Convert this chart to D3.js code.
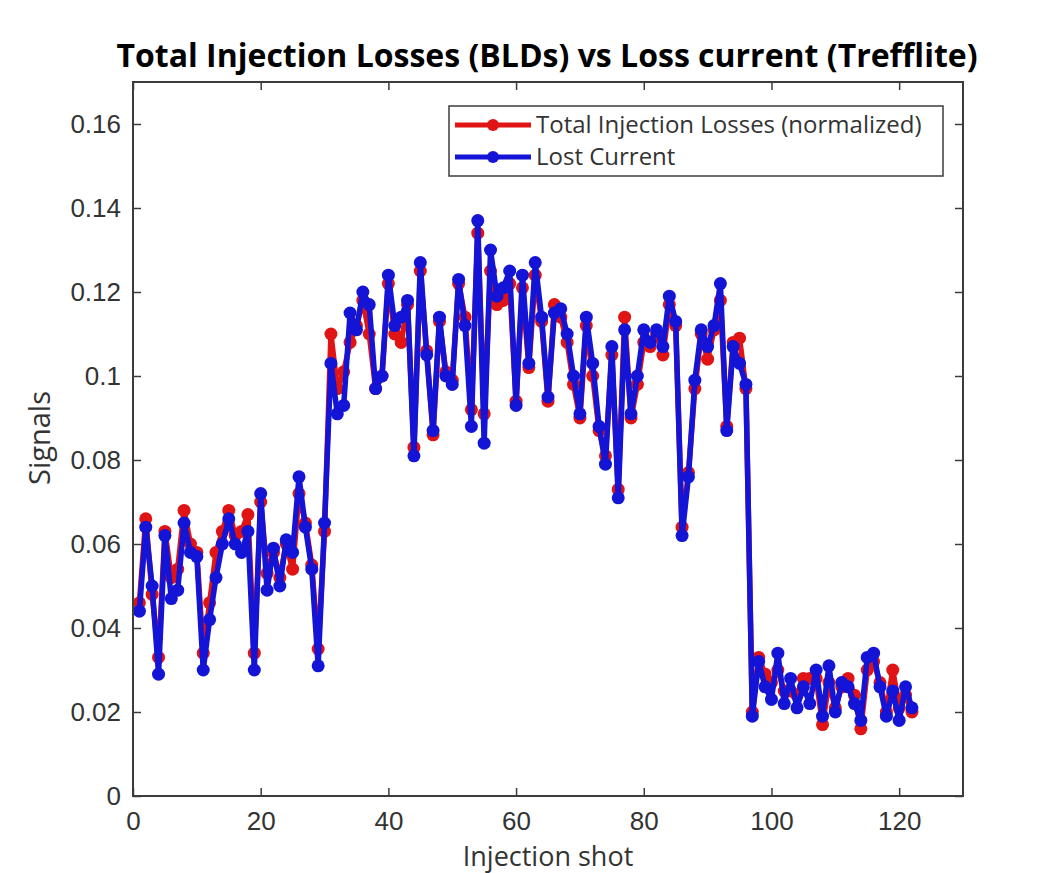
<!DOCTYPE html>
<html lang="en">
<head>
  <meta charset="UTF-8">
  <title>Total Injection Losses vs Loss current</title>
  <style>
    body { margin: 0; background: #fff; }
    svg { display: block; font-family: "Open Sans", "DejaVu Sans", sans-serif; }
  </style>
</head>
<body>
  <svg></svg>
  <script src="https://cdn.jsdelivr.net/npm/d3@7"></script>
  <script>
    // shot 1..122
    const totalLosses = [
      0.046, 0.066, 0.048, 0.033, 0.063, 0.052, 0.054, 0.068, 0.060, 0.058,
      0.034, 0.046, 0.058, 0.063, 0.068, 0.062, 0.063, 0.067, 0.034, 0.070,
      0.053, 0.058, 0.052, 0.060, 0.054, 0.072, 0.065, 0.055, 0.035, 0.063,
      0.110, 0.097, 0.101, 0.108, 0.112, 0.118, 0.110, 0.097, 0.100, 0.122,
      0.110, 0.108, 0.117, 0.083, 0.125, 0.106, 0.086, 0.113, 0.101, 0.099,
      0.122, 0.114, 0.092, 0.134, 0.091, 0.125, 0.117, 0.118, 0.122, 0.094,
      0.121, 0.102, 0.124, 0.113, 0.094, 0.117, 0.114, 0.108, 0.098, 0.090,
      0.112, 0.100, 0.087, 0.081, 0.105, 0.073, 0.114, 0.090, 0.098, 0.108,
      0.107, 0.110, 0.105, 0.117, 0.112, 0.064, 0.077, 0.097, 0.110, 0.104,
      0.111, 0.118, 0.088, 0.108, 0.109, 0.097, 0.020, 0.033, 0.029, 0.027,
      0.030, 0.025, 0.025, 0.024, 0.028, 0.028, 0.028, 0.017, 0.027, 0.021,
      0.026, 0.028, 0.024, 0.016, 0.030, 0.032, 0.027, 0.020, 0.030, 0.021,
      0.024, 0.020
    ];
    const lostCurrent = [
      0.044, 0.064, 0.050, 0.029, 0.062, 0.047, 0.049, 0.065, 0.058, 0.057,
      0.030, 0.042, 0.052, 0.060, 0.066, 0.060, 0.058, 0.063, 0.030, 0.072,
      0.049, 0.059, 0.050, 0.061, 0.058, 0.076, 0.064, 0.054, 0.031, 0.065,
      0.103, 0.091, 0.093, 0.115, 0.111, 0.120, 0.117, 0.097, 0.100, 0.124,
      0.112, 0.114, 0.118, 0.081, 0.127, 0.105, 0.087, 0.114, 0.100, 0.098,
      0.123, 0.112, 0.088, 0.137, 0.084, 0.130, 0.119, 0.121, 0.125, 0.093,
      0.124, 0.103, 0.127, 0.114, 0.095, 0.115, 0.116, 0.110, 0.100, 0.091,
      0.114, 0.103, 0.088, 0.079, 0.107, 0.071, 0.111, 0.091, 0.100, 0.111,
      0.108, 0.111, 0.107, 0.119, 0.113, 0.062, 0.076, 0.099, 0.111, 0.107,
      0.112, 0.122, 0.087, 0.107, 0.103, 0.098, 0.019, 0.032, 0.026, 0.023,
      0.034, 0.022, 0.028, 0.021, 0.026, 0.022, 0.030, 0.019, 0.031, 0.020,
      0.027, 0.026, 0.022, 0.018, 0.033, 0.034, 0.026, 0.019, 0.025, 0.018,
      0.026, 0.021
    ];
    const xTicks = [0, 20, 40, 60, 80, 100, 120];
    const yTicks = [0, 0.02, 0.04, 0.06, 0.08, 0.1, 0.12, 0.14, 0.16];
    const seriesNames = ["Total Injection Losses (normalized)", "Lost Current"];
    const seriesColors = ["#e01414", "#1414d6"];

    const width = 1052, height = 873;
    const mLeft = 133, mRight = 963, mTop = 82, mBottom = 796;
    const axisColor = "#3c3c3c";

    const svg = d3.select("svg").attr("width", width).attr("height", height);

    const x = d3.scaleLinear().domain([0, 130]).range([mLeft, mRight]);
    const y = d3.scaleLinear().domain([0, 0.17]).range([mBottom, mTop]);

    const fmt = d => String(+d.toFixed(2));

    // data lines
    const series = [totalLosses, lostCurrent].map((vals, k) => ({
      name: seriesNames[k],
      color: seriesColors[k],
      points: vals.map((v, i) => [i + 1, v])
    }));

    const line = d3.line().x(d => x(d[0])).y(d => y(d[1]));

    const g = svg.append("g");
    series.forEach(s => {
      const sg = g.append("g");
      sg.append("path")
        .attr("d", line(s.points))
        .attr("fill", "none")
        .attr("stroke", s.color)
        .attr("stroke-width", 5.5)
        .attr("stroke-linejoin", "round");
      sg.selectAll("circle")
        .data(s.points)
        .join("circle")
        .attr("cx", d => x(d[0]))
        .attr("cy", d => y(d[1]))
        .attr("r", 6.5)
        .attr("fill", s.color);
    });

    // axes (matlab style: box + inward ticks on all sides)
    const tickLen = 8;
    svg.append("g")
      .attr("transform", `translate(0,${mBottom})`)
      .call(d3.axisBottom(x).tickValues(xTicks).tickSize(-tickLen).tickPadding(16).tickFormat(d3.format("d")));
    svg.append("g")
      .attr("transform", `translate(0,${mTop})`)
      .call(d3.axisTop(x).tickValues(xTicks).tickSize(-tickLen).tickFormat(""));
    svg.append("g")
      .attr("transform", `translate(${mLeft},0)`)
      .call(d3.axisLeft(y).tickValues(yTicks).tickSize(-tickLen).tickPadding(12).tickFormat(fmt));
    svg.append("g")
      .attr("transform", `translate(${mRight},0)`)
      .call(d3.axisRight(y).tickValues(yTicks).tickSize(-tickLen).tickFormat(""));

    svg.selectAll(".domain").remove();
    svg.selectAll(".tick line").attr("stroke", axisColor).attr("stroke-width", 1.5);
    svg.selectAll(".tick text").attr("fill", "#333").style("font-size", "26px");

    svg.append("rect")
      .attr("x", mLeft).attr("y", mTop)
      .attr("width", mRight - mLeft).attr("height", mBottom - mTop)
      .attr("fill", "none")
      .attr("stroke", axisColor)
      .attr("stroke-width", 2);

    // title and labels
    svg.append("text")
      .attr("x", 547).attr("y", 67)
      .attr("text-anchor", "middle")
      .style("font-size", "32px")
      .style("font-weight", "bold")
      .attr("fill", "#000")
      .text("Total Injection Losses (BLDs) vs Loss current (Trefflite)");

    svg.append("text")
      .attr("transform", "translate(50,438) rotate(-90)")
      .attr("text-anchor", "middle")
      .style("font-size", "29px")
      .attr("fill", "#333")
      .text("Signals");

    svg.append("text")
      .attr("x", 548).attr("y", 866)
      .attr("text-anchor", "middle")
      .style("font-size", "27px")
      .attr("fill", "#333")
      .text("Injection shot");

    // legend
    const lg = svg.append("g").attr("transform", "translate(449,106)");
    lg.append("rect")
      .attr("width", 494).attr("height", 70)
      .attr("fill", "#fff")
      .attr("stroke", axisColor)
      .attr("stroke-width", 1.5);
    series.forEach((s, k) => {
      const row = lg.append("g").attr("transform", `translate(0,${19 + k * 32})`);
      row.append("line")
        .attr("x1", 6).attr("x2", 82)
        .attr("stroke", s.color).attr("stroke-width", 5);
      row.append("circle").attr("cx", 44).attr("r", 6).attr("fill", s.color);
      row.append("text")
        .attr("x", 87).attr("y", 8)
        .style("font-size", "24px")
        .attr("fill", "#333")
        .text(s.name);
    });
  </script>
</body>
</html>
